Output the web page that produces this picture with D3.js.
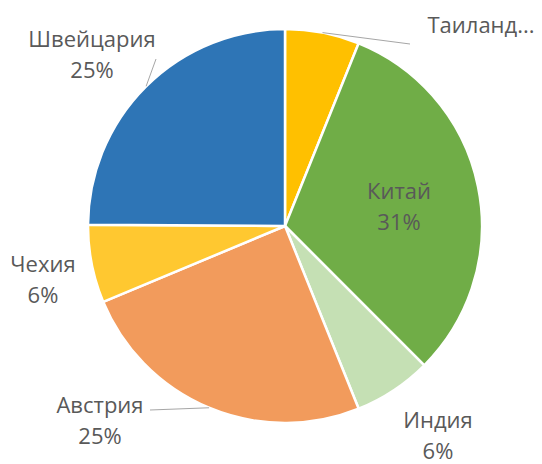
<!DOCTYPE html>
<html>
<head>
<meta charset="utf-8">
<script src="https://cdn.jsdelivr.net/npm/d3@7"></script>
<style>
  html, body { margin: 0; padding: 0; background: #fff; }
  svg { display: block; }
  text { font-family: "Open Sans", "Noto Sans", sans-serif; fill: #595959; }
</style>
</head>
<body>
<svg id="chart" width="542" height="464"></svg>
<script>
// Countries and their shares, clockwise from 12 o'clock
const categories = ["Таиланд", "Китай", "Индия", "Австрия", "Чехия", "Швейцария"];
const values = [6.1, 31.4, 6.4, 24.8, 6.4, 24.9];
const colors = ["#FFC000", "#70AD47", "#C5E0B4", "#F29B5C", "#FFC830", "#2E75B6"];

// Label placement (centre of each label block) and which labels get a leader line
const labelLayout = {
  "Таиланд":   { x: 481, y: 25, truncated: true, leader: [410, 44] },
  "Китай":     { x: 399, y: 207 },
  "Индия":     { x: 438, y: 436 },
  "Австрия":   { x: 100, y: 421, leader: [150, 410] },
  "Чехия":     { x: 43,  y: 280 },
  "Швейцария": { x: 92,  y: 55,  leader: [156, 59] }
};

const cx = 285, cy = 226, radius = 197;
const svg = d3.select("#chart");
const g = svg.append("g").attr("transform", `translate(${cx},${cy})`);

const data = categories.map((c, i) => ({ name: c, value: values[i], color: colors[i] }));
const total = d3.sum(values);

const pie = d3.pie().value(d => d.value).sort(null);
const arc = d3.arc().innerRadius(0).outerRadius(radius);

const arcs = pie(data);

g.selectAll("path.slice")
  .data(arcs)
  .join("path")
  .attr("class", "slice")
  .attr("d", arc)
  .attr("fill", d => d.data.color)
  .attr("stroke", "#fff")
  .attr("stroke-width", 2.5)
  .attr("stroke-linejoin", "round");

// Leader lines from the rim at each slice's mid-angle to its label
arcs.forEach(d => {
  const lay = labelLayout[d.data.name];
  if (!lay.leader) return;
  const mid = (d.startAngle + d.endAngle) / 2;
  const sx = cx + Math.sin(mid) * radius;
  const sy = cy - Math.cos(mid) * radius;
  svg.append("line")
    .attr("x1", sx).attr("y1", sy)
    .attr("x2", lay.leader[0]).attr("y2", lay.leader[1])
    .attr("stroke", "#A6A6A6")
    .attr("stroke-width", 1);
});

// Category and percentage labels
const fmt = v => Math.round(v / total * 100) + "%";
arcs.forEach(d => {
  const lay = labelLayout[d.data.name];
  const t = svg.append("text")
    .attr("text-anchor", "middle")
    .attr("font-size", 22);
  if (lay.truncated) {
    t.append("tspan").attr("x", lay.x).attr("y", lay.y).attr("dy", "0.35em")
      .text(d.data.name + "...");
  } else {
    t.append("tspan").attr("x", lay.x).attr("y", lay.y - 15.5).attr("dy", "0.35em")
      .text(d.data.name);
    t.append("tspan").attr("x", lay.x).attr("y", lay.y + 15.5).attr("dy", "0.35em")
      .text(fmt(d.data.value));
  }
});
</script>
</body>
</html>
